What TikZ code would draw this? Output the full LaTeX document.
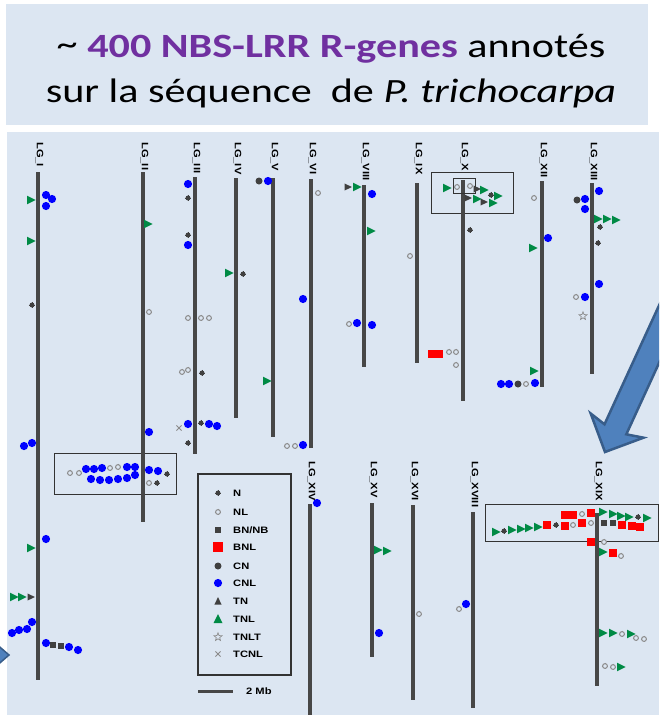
\documentclass[tikz,border=0pt]{standalone}
\usepackage{fontspec}
\setmainfont{Carlito}
\newfontfamily\lf{Liberation Sans}
\definecolor{bg}{HTML}{DCE6F2}
\definecolor{purp}{HTML}{7030A0}
\definecolor{cdark}{HTML}{404040}
\definecolor{cgray}{HTML}{8A8A8A}
\definecolor{cblue}{HTML}{0000FF}
\definecolor{cgreen}{HTML}{008A45}
\definecolor{cred}{HTML}{FF0000}
\definecolor{chromc}{HTML}{474747}
\definecolor{arrowfill}{HTML}{4F81BD}
\definecolor{arrowline}{HTML}{385D8A}
\tikzset{
  chrom/.style={draw=chromc, line width=3.2pt},
  frame/.style={draw=black!80, line width=0.9pt},
  lgl/.style={rotate=-90, anchor=west, inner sep=0pt, font=\lf\bfseries\fontsize{9.3}{10}\selectfont},
  legt/.style={anchor=west, inner sep=0pt, font=\lf\bfseries\fontsize{9.3}{10}\selectfont},
  ttl/.style={anchor=base, inner sep=0pt, font=\fontsize{34}{40}\selectfont},
  mN/.pic={\draw[cdark,line width=0.6pt] (-3.2,0)--(3.2,0) (0,-3.2)--(0,3.2); \fill[cdark] (0,0) circle (2.5);},
  mNL/.pic={\draw[cgray,line width=0.6pt] (-3.3,0)--(3.3,0) (0,-3.3)--(0,3.3); \draw[cgray,fill=bg,line width=1pt] (0,0) circle (2.4);},
  mBN/.pic={\fill[cdark] (-3.4,-3.4) rectangle (3.4,3.4);},
  mBNL/.pic={\fill[cred] (-4,-4) rectangle (4,4);},
  mCN/.pic={\fill[cdark] (0,0) circle (3.5);},
  mCNL/.pic={\fill[cblue] (0,0) circle (4.1);},
  mTN/.pic={\fill[cdark] (-3.5,-3.6)--(3.8,0)--(-3.5,3.6)--cycle;},
  mTNL/.pic={\fill[cgreen] (-4,-4.3)--(4.6,0)--(-4,4.3)--cycle;},
  mTNup/.pic={\fill[cdark] (-3.6,3.5)--(0,-3.8)--(3.6,3.5)--cycle;},
  mTNLup/.pic={\fill[cgreen] (-4.5,4)--(0,-4.8)--(4.5,4)--cycle;},
  mStar/.pic={\draw[cgray,line width=0.7pt] (-90:4.2)--(-54:1.8)--(-18:4.2)--(18:1.8)--(54:4.2)--(90:1.8)--(126:4.2)--(162:1.8)--(198:4.2)--(234:1.8)--cycle;},
  mX/.pic={\draw[cgray,line width=0.8pt] (-2.6,-2.6)--(2.6,2.6) (-2.6,2.6)--(2.6,-2.6);}
}
\newcommand\strx[1]{\scalebox{1.2}[1]{#1}}
\begin{document}
\begin{tikzpicture}[x=1pt,y=-1pt]
\useasboundingbox (0,0) rectangle (659,715);
\fill[white] (0,0) rectangle (659,715);
% banner
\fill[bg] (6,4) rectangle (648,125);
\node[ttl] (title1) at (331,57)
  {\scalebox{1.24}[1]{\raisebox{2pt}{\textasciitilde} {\bfseries\color{purp}400 NBS-LRR R-genes} annotés}};
\node[ttl] (title2) at (331,102)
  {\scalebox{1.24}[1]{sur la séquence \ de \textit{P. trichocarpa}}};
% main panel
\fill[bg] (7,132) rectangle (659,715);
% cluster boxes
\draw[frame] (54,453) rectangle (176,494);
\draw[frame] (431,172) rectangle (513,213);
\draw[frame] (485,504) rectangle (658,541);
% chromosomes
\foreach \n/\x/\t/\b in {I/38/172/680, II/143/172/522, III/195/177/454, IV/236/178/418, V/273/178/437, VI/311/179/448, VIII/364/185/367, IX/417/183/363, X/463/180/401, XII/542/181/387, XIII/592/183/374}{
  \draw[chrom] (\x,\t) -- (\x,\b);
  \node[lgl] (lab\n) at (\x+1.5,142) {\strx{LG\_\n}};
}
\foreach \n/\x/\t/\b in {XIV/310/504/718, XV/372/503/657, XVI/413/505/700, XVIII/473/512/708, XIX/597/513/686}{
  \draw[chrom] (\x,\t) -- (\x,\b);
  \node[lgl] (lab\n) at (\x+1.5,461) {\strx{LG\_\n}};
}
\draw[frame] (453,178) rectangle (475,193);
% markers
\foreach \x/\y in {70/473, 79/473, 110/468, 118/467, 149/483, 149/312, 188/318, 201/318, 209/318, 182/372, 188/370, 318/193, 287/446, 295/446, 349/324, 410/256, 457/187, 470/186, 449/352, 456/352, 456/365, 534/198, 526/384, 576/297, 419/614, 459/609, 582/514, 573/525, 591/523, 604/542, 621/556, 622/634, 636/638, 644/639, 605/666, 613/667, 218/512}
  {\pic at (\x,\y) {mNL};}
\foreach \x/\y in {32/305, 167/474, 157/483, 188/198, 188/235, 202/373, 201/423, 188/443, 243/274, 491/195, 470/230, 600/227, 598/243, 504/531, 556/525, 638/517, 218/493}
  {\pic at (\x,\y) {mN};}
\foreach \x/\y in {53/645, 61/646, 604/523, 613/523, 218/530}
  {\pic at (\x,\y) {mBN};}
\foreach \x/\y in {432/354, 439/354, 565/515, 573/515, 591/513, 547/525, 565/526, 582/523, 622/525, 632/526, 640/527, 591/542, 613/553}
  {\pic at (\x,\y) {mBNL};}
\pic[scale=1.2] at (218,547) {mBNL};
\foreach \x/\y in {259/181, 577/200, 518/384, 218/566}
  {\pic at (\x,\y) {mCN};}
\foreach \x/\y in {46/195, 52/199, 46/206, 24/446, 32/443, 46/539, 12/633, 19/630, 27/629, 32/622, 46/643, 69/647, 78/650, 149/432, 86/469, 94/469, 102/468, 127/467, 135/467, 149/470, 158/471, 91/479, 100/480, 109/480, 118/479, 127/478, 135/475, 188/184, 188/245, 188/424, 209/424, 217/426, 268/181, 303/299, 303/445, 372/194, 357/323, 372/325, 548/238, 501/384, 509/384, 535/383, 599/191, 585/199, 585/209, 599/284, 585/297, 317/503, 379/633, 466/604, 218/583}
  {\pic at (\x,\y) {mCNL};}
\foreach \x/\y in {31/597, 348/187, 477/189, 468/198, 484/202}
  {\pic at (\x,\y) {mTN};}
\foreach \x/\y in {31/200, 31/241, 148/224, 31/548, 14/597, 22/597, 229/273, 267/381, 357/187, 371/231, 447/188, 484/190, 498/196, 477/199, 493/203, 533/248, 534/371, 598/219, 607/219, 616/220, 378/550, 387/551, 603/512, 613/514, 621/516, 629/517, 647/518, 496/532, 512/530, 521/529, 529/528, 538/527, 603/552, 603/633, 613/633, 631/634, 621/667}
  {\pic at (\x,\y) {mTNL};}
\pic at (583,316) {mStar};
\pic at (179,428) {mX};
% legend
\draw[frame, line width=1.2pt] (198,474) rectangle (291,675);
\pic at (218,601) {mTNup};
\pic at (218,619) {mTNLup};
\pic at (218,637) {mStar};
\pic at (218,654) {mX};
\foreach \t/\y in {N/493, NL/512, {BN/NB}/530, BNL/547, CN/566, CNL/583, TN/601, TNL/619, TNLT/637, TCNL/654}
  {\node[legt] at (233,\y) {\strx{\t}};}
\draw[draw=chromc, line width=3pt] (198,691) -- (233,691);
\node[legt] (scale) at (246,691) {\strx{2 Mb}};
% big arrow
\begin{scope}
\clip (0,132) rectangle (659,715);
\draw[fill=arrowfill, draw=arrowline, line width=2.5pt, line join=miter]
  (605,452) -- (590.7,413.5) -- (604.5,424.3) -- (677.5,265.2) -- (699.3,275.2) -- (626.3,434.3) -- (643.5,437.7) -- cycle;
\end{scope}
% small left arrow
\draw[fill=arrowfill, draw=arrowline, line width=1.5pt] (-6,642) -- (9,655) -- (-6,668) -- cycle;
\end{tikzpicture}
\end{document}
